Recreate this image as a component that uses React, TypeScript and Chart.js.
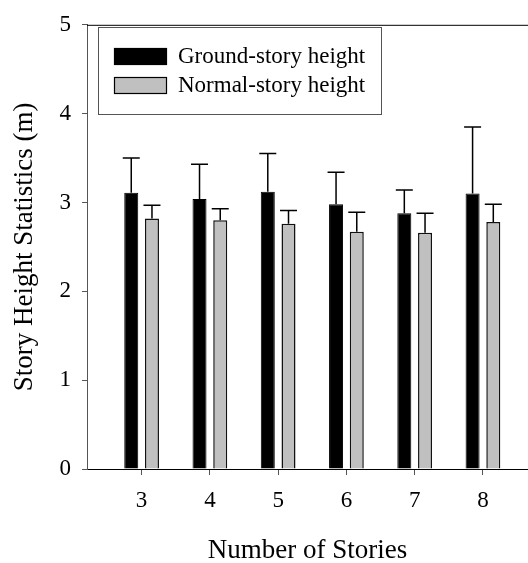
import React, { useEffect, useRef } from "react";
import { Chart, registerables } from "chart.js";

Chart.register(...registerables);

const stories = [3, 4, 5, 6, 7, 8];
const groundHeight = [3.11, 3.04, 3.12, 2.98, 2.88, 3.1];
const groundError = [0.39, 0.39, 0.43, 0.36, 0.26, 0.75];
const normalHeight = [2.82, 2.8, 2.76, 2.67, 2.66, 2.78];
const normalError = [0.15, 0.13, 0.15, 0.22, 0.22, 0.2];
const seriesLabels = ["Ground-story height", "Normal-story height"];
const xTitle = "Number of Stories";
const yTitle = "Story Height Statistics (m)";

const SERIF = "'Liberation Serif', 'Times New Roman', Times, serif";

const errorBarPlugin = {
  id: "errorBars",
  afterDatasetsDraw(chart: any) {
    const ctx = chart.ctx;
    const yScale = chart.scales.y;
    chart.data.datasets.forEach((ds: any, di: number) => {
      const meta = chart.getDatasetMeta(di);
      meta.data.forEach((bar: any, i: number) => {
        const v = ds.data[i];
        const e = ds.errors[i];
        const x = bar.x;
        const yTop = yScale.getPixelForValue(v + e);
        ctx.save();
        ctx.strokeStyle = "#000";
        ctx.lineWidth = 1.5;
        ctx.beginPath();
        ctx.moveTo(x, bar.y);
        ctx.lineTo(x, yTop);
        ctx.moveTo(x - 8.5, yTop);
        ctx.lineTo(x + 8.5, yTop);
        ctx.stroke();
        ctx.restore();
      });
    });
  },
};

const framePlugin = {
  id: "frameTop",
  afterDraw(chart: any) {
    const { ctx, chartArea } = chart;
    ctx.save();
    ctx.strokeStyle = "#000";
    ctx.lineWidth = 1;
    ctx.beginPath();
    ctx.moveTo(chartArea.left, chartArea.top + 0.5);
    ctx.lineTo(chartArea.right, chartArea.top + 0.5);
    ctx.stroke();
    ctx.restore();
  },
};

const legendPlugin = {
  id: "boxLegend",
  afterDraw(chart: any) {
    const ctx = chart.ctx;
    ctx.save();
    ctx.strokeStyle = "#555";
    ctx.lineWidth = 1;
    ctx.strokeRect(98.5, 27.5, 283, 87);
    chart.data.datasets.forEach((ds: any, i: number) => {
      const top = i === 0 ? 48 : 77;
      const h = 17;
      ctx.fillStyle = ds.backgroundColor;
      ctx.fillRect(114, top, 53, h);
      ctx.strokeStyle = "#000";
      ctx.lineWidth = 1.2;
      ctx.strokeRect(114.5, top + 0.5, 52, h - 1);
      ctx.fillStyle = "#000";
      ctx.font = `23px ${SERIF}`;
      ctx.textBaseline = "middle";
      ctx.textAlign = "left";
      ctx.fillText(ds.label, 178, top + h / 2);
    });
    ctx.restore();
  },
};

export default function App() {
  const ref = useRef<HTMLCanvasElement | null>(null);

  useEffect(() => {
    if (!ref.current) return;
    const chart = new Chart(ref.current, {
      type: "bar",
      data: {
        labels: stories,
        datasets: [
          {
            label: seriesLabels[0],
            data: groundHeight,
            errors: groundError,
            backgroundColor: "#000000",
            borderColor: "#000000",
            borderWidth: 1,
          } as any,
          {
            label: seriesLabels[1],
            data: normalHeight,
            errors: normalError,
            backgroundColor: "#c0c0c0",
            borderColor: "#111111",
            borderWidth: 1.5,
          } as any,
        ],
      },
      options: {
        animation: false,
        responsive: false,
        devicePixelRatio: 1,
        categoryPercentage: 0.607,
        barPercentage: 0.676,
        layout: { padding: { top: 18, left: 0, right: 0, bottom: 0 } },
        plugins: {
          legend: { display: false },
          tooltip: { enabled: false },
        },
        scales: {
          x: {
            type: "linear",
            min: 2.2,
            max: 8.66,
            offset: false,
            afterBuildTicks: (axis: any) => {
              axis.ticks = stories.map((v) => ({ value: v }));
            },
            afterFit: (scale: any) => {
              scale.height = 94;
            },
            grid: {
              display: true,
              drawOnChartArea: false,
              drawTicks: true,
              tickLength: 6,
              color: "#555",
              offset: false,
            },
            border: { display: true, color: "#000", width: 1 },
            ticks: {
              autoSkip: false,
              maxRotation: 0,
              padding: 12,
              color: "#000",
              font: { family: SERIF, size: 23 },
            },
            title: {
              display: true,
              text: xTitle,
              color: "#000",
              font: { family: SERIF, size: 27, lineHeight: 0.9 },
              padding: 0,
            },
          },
          y: {
            min: 0,
            max: 5,
            afterFit: (scale: any) => {
              scale.width = 87;
            },
            ticks: {
              stepSize: 1,
              padding: 11,
              color: "#000",
              font: { family: SERIF, size: 23 },
            },
            grid: {
              display: true,
              drawOnChartArea: false,
              drawTicks: true,
              tickLength: 5,
              color: "#555",
            },
            border: { display: true, color: "#555", width: 1 },
            title: {
              display: true,
              text: yTitle,
              color: "#000",
              font: { family: SERIF, size: 27, lineHeight: 1 },
              padding: { top: 11.5, bottom: 0 },
            },
          },
        },
      } as any,
      plugins: [errorBarPlugin, framePlugin, legendPlugin],
    });
    return () => chart.destroy();
  }, []);

  return (
    <div style={{ position: "fixed", left: 0, top: 0, width: 528, height: 563, background: "#fff" }}>
      <canvas ref={ref} width={528} height={563} style={{ display: "block" }} />
    </div>
  );
}
